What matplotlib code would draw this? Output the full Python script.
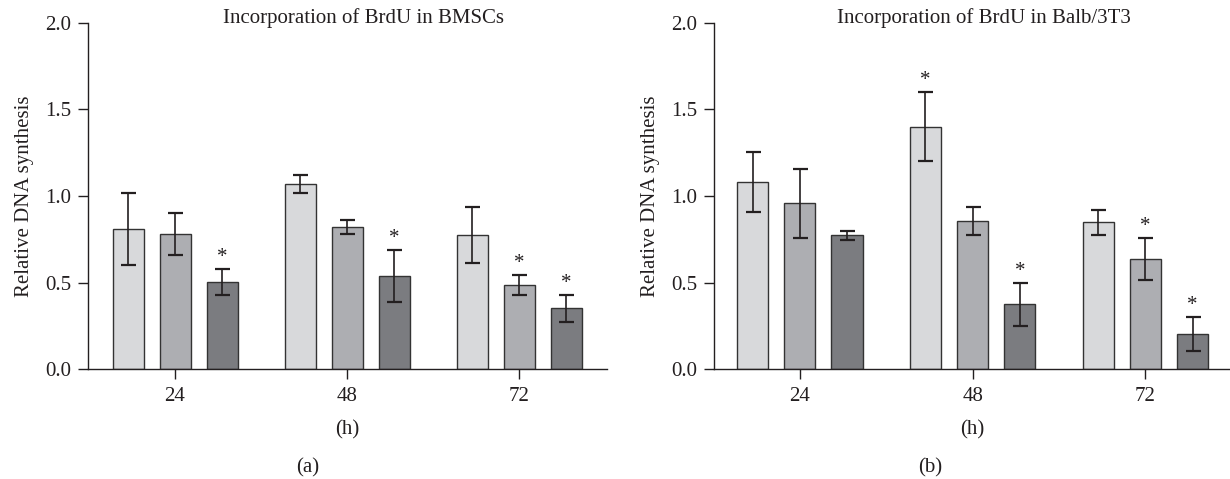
import matplotlib
matplotlib.use("Agg")
import matplotlib.pyplot as plt
import numpy as np

plt.rcParams['font.family'] = ['Liberation Serif', 'DejaVu Serif']

# data
hours = ['24', '48', '72']

bmsc_mean = [[0.81, 1.07, 0.775],   # light
             [0.78, 0.82, 0.485],   # mid
             [0.505, 0.54, 0.35]]   # dark
bmsc_err = [[0.21, 0.05, 0.16],
            [0.12, 0.04, 0.06],
            [0.075, 0.15, 0.08]]
bmsc_star = [[False, False, False],
             [False, False, True],
             [True, True, True]]

balb_mean = [[1.08, 1.40, 0.848],
             [0.957, 0.854, 0.637],
             [0.773, 0.373, 0.204]]
balb_err = [[0.175, 0.20, 0.072],
            [0.20, 0.08, 0.122],
            [0.025, 0.127, 0.098]]
balb_star = [[False, True, False],
             [False, False, True],
             [False, True, True]]

colors = ['#d8d9db', '#adaeb2', '#7b7c80']
offsets = [-0.273, 0.0, 0.273]
BAR_W = 0.18
INK = '#231f20'
FS = 15

fig = plt.figure(figsize=(12.3, 4.79), dpi=100)
ax1 = fig.add_axes([0.0715, 0.2296, 0.422, 0.7224])
ax2 = fig.add_axes([0.5805, 0.2296, 0.4195, 0.7224])


def draw_panel(ax, means, errs, stars, title, title_x, xlim):
    x = np.arange(len(hours))
    for i in range(3):
        ax.bar(x + offsets[i], means[i], BAR_W, color=colors[i],
               edgecolor='#333333', linewidth=1.0, zorder=2)
        ax.errorbar(x + offsets[i], means[i], yerr=errs[i], fmt='none',
                    ecolor=INK, elinewidth=1.2, capsize=5.4, capthick=1.6,
                    zorder=3)
        for j in range(len(hours)):
            if stars[i][j]:
                ax.text(x[j] + offsets[i], means[i][j] + errs[i][j] + 0.01, '*',
                        ha='center', va='bottom', fontsize=15, color=INK)
    ax.set_xlim(*xlim)
    ax.set_ylim(0, 2.0)
    ax.set_yticks([0.0, 0.5, 1.0, 1.5, 2.0])
    ax.set_yticklabels(['0.0', '0.5', '1.0', '1.5', '2.0'])
    ax.set_xticks(x)
    ax.set_xticklabels(hours)
    for s in ['top', 'right']:
        ax.spines[s].set_visible(False)
    for s in ['left', 'bottom']:
        ax.spines[s].set_color(INK)
        ax.spines[s].set_linewidth(1.0)
    ax.tick_params(axis='both', direction='out', length=7, width=1.0,
                   color=INK, labelcolor=INK, labelsize=FS)
    ax.tick_params(axis='y', pad=5)
    ax.tick_params(axis='x', pad=6)
    ax.set_ylabel('Relative DNA synthesis', fontsize=FS, color=INK, labelpad=8)
    ax.set_xlabel('(h)', fontsize=FS, color=INK, labelpad=10)
    ax.text(title_x, 1.015, title, transform=ax.transAxes, ha='center',
            va='center', fontsize=FS, color=INK)


draw_panel(ax1, bmsc_mean, bmsc_err, bmsc_star,
           'Incorporation of BrdU in BMSCs', 0.53, (-0.506, 2.51))
draw_panel(ax2, balb_mean, balb_err, balb_star,
           'Incorporation of BrdU in Balb/3T3', 0.523, (-0.497, 2.49))

fig.text(0.25, 0.023, '(a)', ha='center', va='center', fontsize=FS, color=INK)
fig.text(0.756, 0.023, '(b)', ha='center', va='center', fontsize=FS, color=INK)

fig.savefig('out.png', dpi=100, facecolor='white')
